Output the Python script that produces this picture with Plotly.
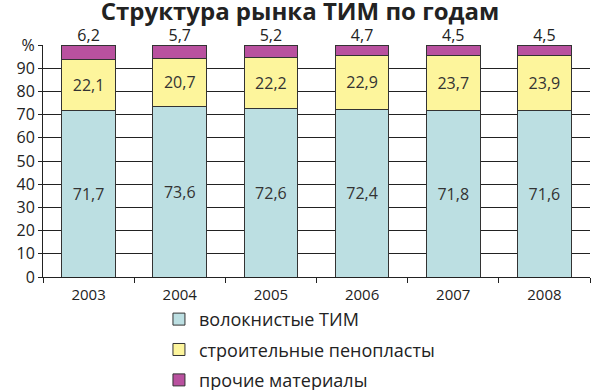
import plotly.graph_objects as go

years = ["2003", "2004", "2005", "2006", "2007", "2008"]
fiber = [71.7, 73.6, 72.6, 72.4, 71.8, 71.6]
foam = [22.1, 20.7, 22.2, 22.9, 23.7, 23.9]
other = [6.2, 5.7, 5.2, 4.7, 4.5, 4.5]
names = ["волокнистые ТИМ", "строительные пенопласты", "прочие материалы"]
colors = ["#BCDFE2", "#FDF59C", "#B9519F"]
ytick_vals = [0, 10, 20, 30, 40, 50, 60, 70, 80, 90, 100]
ytick_text = ["0", "10", "20", "30", "40", "50", "60", "70", "80", "90", "%"]

def fmt(v):
    return f"{v:.1f}".replace(".", ",")

FONT = "Open Sans"
fig = go.Figure()
for i, (vals, nm, col) in enumerate(zip([fiber, foam, other], names, colors)):
    fig.add_trace(go.Bar(
        x=years, y=vals, name=nm, legendgroup=str(i),
        marker=dict(color=col, line=dict(color="#333333", width=1)),
        text=[fmt(v) for v in vals] if i < 2 else None,
        textposition="inside", insidetextanchor="middle",
        textfont=dict(family=FONT, size=16, color="#333333"),
        hoverinfo="skip",
    ))

totals = [round(a + b + c, 6) for a, b, c in zip(fiber, foam, other)]
fig.add_trace(go.Scatter(
    x=years, y=totals, mode="text", text=[fmt(v) for v in other],
    textposition="top center", cliponaxis=False, showlegend=False,
    textfont=dict(family=FONT, size=16, color="#222222"), hoverinfo="skip",
))

fig.update_layout(
    width=600, height=390,
    barmode="stack", bargap=0.41,
    plot_bgcolor="white", paper_bgcolor="white",
    hovermode=False,
    margin=dict(l=43, r=10, t=45, b=113, autoexpand=False),
    title=dict(text="<b>Структура рынка ТИМ по годам</b>", x=0.5, xanchor="center",
               y=0.992, yanchor="top", pad=dict(t=0, b=0),
               font=dict(family=FONT, size=24, color="#222222")),
    font=dict(family=FONT, size=15, color="#222222"),
    showlegend=True,
    legend=dict(orientation="v", traceorder="grouped", tracegroupgap=4,
                x=0.212, xanchor="left", y=-0.103, yanchor="top",
                font=dict(family=FONT, size=18, color="#222222"),
                itemclick=False),
    xaxis=dict(type="category", showline=True, linecolor="#222222", linewidth=1,
               ticks="outside", tickson="boundaries", ticklen=5, tickcolor="#222222",
               ticklabelstandoff=4,
               showgrid=False, tickfont=dict(family=FONT, size=15)),
    yaxis=dict(range=[0, 100], tickvals=ytick_vals, ticktext=ytick_text,
               showline=True, linecolor="#222222", linewidth=1, ticks="outside",
               ticklen=4, tickcolor="#222222", showgrid=True, gridcolor="#222222",
               gridwidth=1, zeroline=False, tickfont=dict(family=FONT, size=16)),
)
fig.write_html("out.html", config={"displayModeBar": False},
               post_script="document.body.style.margin='0';")
